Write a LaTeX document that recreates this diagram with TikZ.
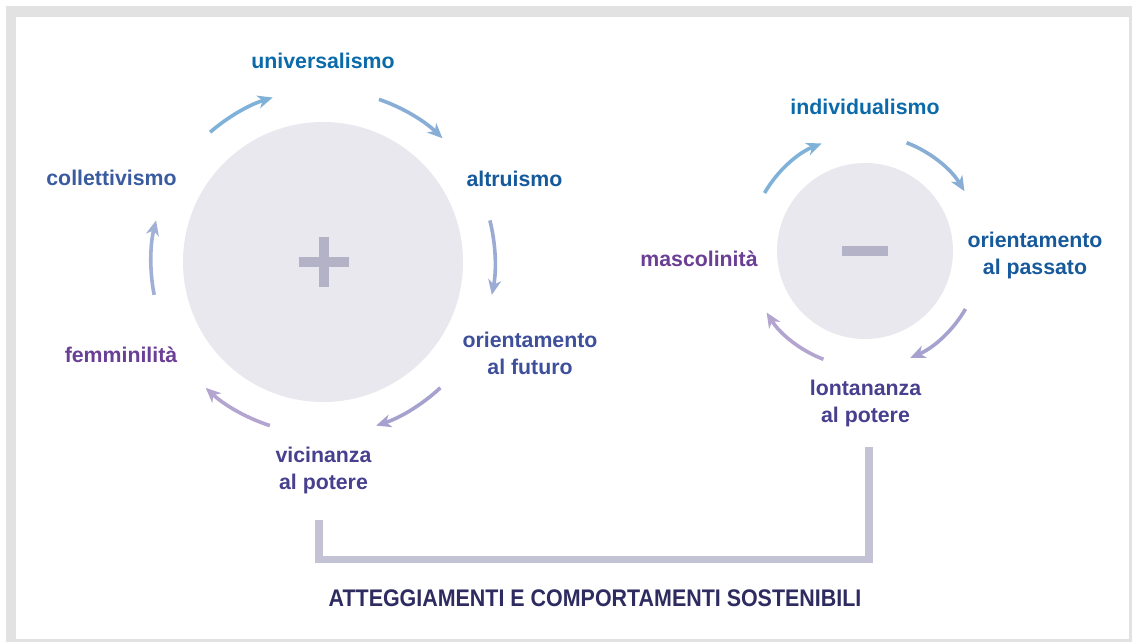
\documentclass[tikz,border=0pt]{standalone}
\usepackage{fontspec}
\setmainfont{Liberation Sans}
\newfontfamily\titlefont[FakeStretch=0.893]{Liberation Sans}
\usetikzlibrary{arrows.meta}
\definecolor{frame}{HTML}{E2E2E2}
\definecolor{disc}{HTML}{E9E8EF}
\definecolor{sign}{HTML}{B3B2C7}
\definecolor{brack}{HTML}{C4C3D6}
\definecolor{cBlueA}{HTML}{0A6AAA}
\definecolor{cBlueB}{HTML}{175A9C}
\definecolor{cIndA}{HTML}{3B5BA0}
\definecolor{cIndB}{HTML}{3E4F9B}
\definecolor{cPurp}{HTML}{6B3F95}
\definecolor{cPow}{HTML}{47408E}
\definecolor{cTitle}{HTML}{2D2B5F}
\definecolor{aA}{HTML}{7FB2D8}
\definecolor{aB}{HTML}{88AED6}
\definecolor{aC}{HTML}{9CABD4}
\definecolor{aD}{HTML}{A6A2CF}
\definecolor{aE}{HTML}{B3A5D0}
\definecolor{aF}{HTML}{A0B0D6}
\tikzset{
  lab/.style={font=\bfseries\fontsize{21.3}{27}\selectfont, align=center, anchor=base, inner sep=0pt},
  cyc/.style={line width=3.6pt, -{Stealth[length=15pt,width=13pt,inset=4.5pt]}},
  brk/.style={line width=7.5pt, brack, line join=miter, line cap=butt},
}
\begin{document}
\begin{tikzpicture}[x=1pt,y=-1pt]
\useasboundingbox (0,0) rectangle (1132,642);
% frame
\fill[frame] (6,6) rectangle (1132,642);
\fill[white] (16,17) rectangle (1129,639);

% discs
\coordinate (L) at (323,262);
\coordinate (R) at (865,251);
\fill[disc] (L) circle[radius=140];
\fill[disc] (R) circle[radius=88];
\fill[sign] (298.5,257) rectangle (348.5,267);
\fill[sign] (318.5,237) rectangle (328.5,287);
\fill[sign] (842,246) rectangle (888,256);

% labels left
\node[lab, text=cBlueA] (univ) at (323,69) {universalismo};
\node[lab, text=cBlueB] (altr) at (514.5,186) {altruismo};
\node[lab, text=cIndA] (coll) at (111.5,185) {collettivismo};
\node[lab, text=cIndB, anchor=north] (fut) at (530,332) {orientamento\\al futuro};
\node[lab, text=cPurp] (femm) at (121,362) {femminilità};
\node[lab, text=cPow, anchor=north] (vic) at (323.5,447) {vicinanza\\al potere};

% labels right
\node[lab, text=cBlueA] (indiv) at (865,114) {individualismo};
\node[lab, text=cBlueB, anchor=north] (pass) at (1035,232) {orientamento\\al passato};
\node[lab, text=cPurp] (masc) at (699,266) {mascolinità};
\node[lab, text=cPow, anchor=north] (lont) at (865.5,380) {lontananza\\al potere};

% title
\node[font=\titlefont\bfseries\fontsize{24}{28}\selectfont, text=cTitle, anchor=base, inner sep=0pt] (title) at (595,606) {ATTEGGIAMENTI E COMPORTAMENTI SOSTENIBILI};

% cycle arrows, left (math angles negated since y points down)
\draw[cyc, aA] ([shift={(-131:172)}]L) arc[start angle=-131, end angle=-107, radius=172];
\draw[cyc, aB] ([shift={(-71:172)}]L) arc[start angle=-71, end angle=-46, radius=172];
\draw[cyc, aC] ([shift={(-14:172)}]L) arc[start angle=-14, end angle=11, radius=172];
\draw[cyc, aD] ([shift={(47:172)}]L) arc[start angle=47, end angle=72, radius=172];
\draw[cyc, aE] ([shift={(108:172)}]L) arc[start angle=108, end angle=133, radius=172];
\draw[cyc, aF] ([shift={(169:172)}]L) arc[start angle=169, end angle=194, radius=172];

% cycle arrows, right
\draw[cyc, aA] ([shift={(-150:116)}]R) arc[start angle=-150, end angle=-112, radius=116];
\draw[cyc, aB] ([shift={(-69:116)}]R) arc[start angle=-69, end angle=-31, radius=116];
\draw[cyc, aD] ([shift={(30:116)}]R) arc[start angle=30, end angle=67, radius=116];
\draw[cyc, aE] ([shift={(111:116)}]R) arc[start angle=111, end angle=148, radius=116];

% bracket
\coordinate (bl) at (319,520);
\coordinate (br) at (869,447);
\draw[brk] (bl) -- (bl |- 0,559.5) -- (br |- 0,559.5) -- (br);
\end{tikzpicture}
\end{document}
